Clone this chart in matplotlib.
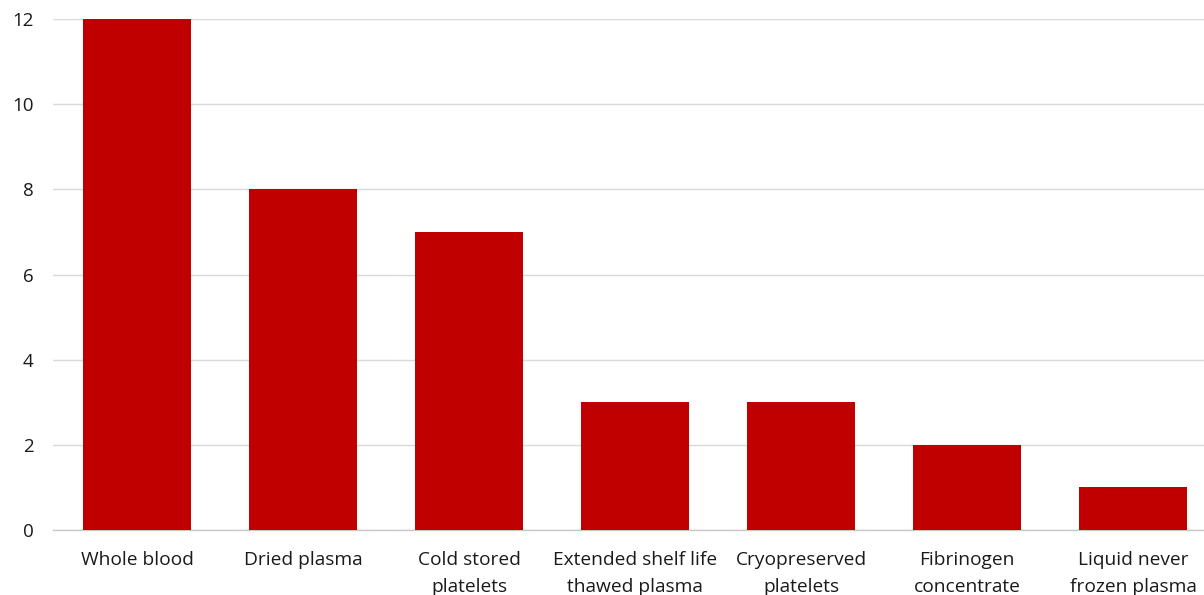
import matplotlib
matplotlib.use('Agg')
import matplotlib.pyplot as plt

# 数据
categories = ['Whole blood', 'Dried plasma', 'Cold stored\nplatelets',
              'Extended shelf life\nthawed plasma', 'Cryopreserved\nplatelets',
              'Fibrinogen\nconcentrate', 'Liquid never\nfrozen plasma']
values = [12, 8, 7, 3, 3, 2, 1]
y_ticks = [0, 2, 4, 6, 8, 10, 12]

plt.rcParams['font.family'] = ['Open Sans', 'DejaVu Sans']

fig = plt.figure(figsize=(12.04, 5.95), dpi=100)
ax = fig.add_axes([0.044, 0.1092, 0.956, 0.8588])

x = range(len(categories))
ax.bar(x, values, width=0.65, color='#C00000', zorder=3)

ax.set_ylim(0, 12)
ax.set_xlim(-0.506, 6.428)
ax.set_yticks(y_ticks)
ax.set_xticks(list(x))
ax.set_xticklabels(categories, fontsize=13.8, color='#1a1a1a', linespacing=1.65)
ax.tick_params(axis='y', labelsize=13.5, colors='#1a1a1a', length=0, pad=14)
ax.tick_params(axis='x', length=0, pad=15)

ax.grid(axis='y', color='#d9d9d9', linewidth=1.0, zorder=0)
for side in ['top', 'right', 'left']:
    ax.spines[side].set_visible(False)
ax.spines['bottom'].set_color('#c8c8c8')
ax.spines['bottom'].set_linewidth(1.0)

fig.savefig('out.png', dpi=100)
